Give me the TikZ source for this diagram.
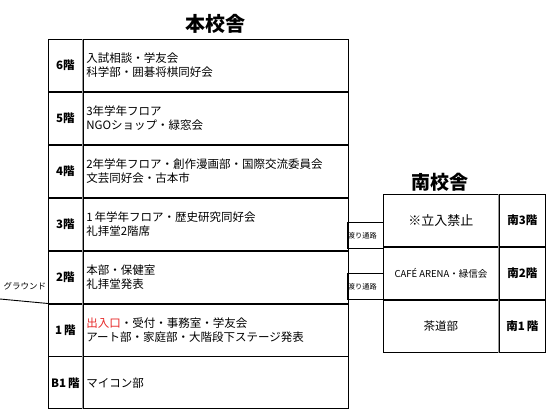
\documentclass[tikz,border=0pt]{standalone}
\usepackage{fontspec}
\setmainfont{Noto Sans CJK JP}
\usepackage{xcolor}
\usepackage{tikz}
\usetikzlibrary{positioning}
\definecolor{entred}{RGB}{230,40,40}
\tikzset{
  flrlab/.style  = {rectangle, draw, inner sep=0pt, font=\fontsize{11.5}{14}\selectfont\bfseries,
                    minimum width=34pt, minimum height=52pt},
  flrcell/.style = {rectangle, draw, inner xsep=3pt, inner ysep=0pt, align=left,
                    text width=259pt, minimum height=52pt,
                    font=\fontsize{11.5}{14}\selectfont},
  scell/.style   = {rectangle, draw, inner sep=0pt, align=center,
                    minimum width=115pt, minimum height=52pt},
  slab/.style    = {rectangle, draw, inner sep=0pt, font=\fontsize{11.5}{14}\selectfont\bfseries,
                    minimum width=46pt, minimum height=52pt},
  corr/.style    = {rectangle, draw, inner xsep=0.5pt, inner ysep=0pt, anchor=north west,
                    minimum width=36pt, minimum height=26pt, text width=35pt,
                    font=\fontsize{7.2}{8}\selectfont},
  bldtitle/.style= {font=\fontsize{20}{22}\selectfont\bfseries},
  divline/.style = {draw=gray!80, line width=1pt},
}

\begin{document}
\begin{tikzpicture}[x=1pt, y=-1pt, line width=0.9pt]
  \useasboundingbox (0,0) rectangle (550,413);
  \node[bldtitle] (maintitle) at (215,24) {本校舎};

  % main building, top floor first
  \node[flrlab, anchor=north west] (f6) at (48,39) {6階};
  \node[flrcell, right=0pt of f6] (r6) {入試相談・学友会\\科学部・囲碁将棋同好会};
  \node[flrlab, below=0pt of f6] (f5) {5階};
  \node[flrcell, right=0pt of f5] (r5) {3年学年フロア\\NGOショップ・緑窓会};
  \node[flrlab, below=0pt of f5] (f4) {4階};
  \node[flrcell, right=0pt of f4] (r4) {2年学年フロア・創作漫画部・国際交流委員会\\文芸同好会・古本市};
  \node[flrlab, below=0pt of f4] (f3) {3階};
  \node[flrcell, right=0pt of f3] (r3) {1\,年学年フロア・歴史研究同好会\\礼拝堂2階席};
  \node[flrlab, below=0pt of f3] (f2) {2階};
  \node[flrcell, right=0pt of f2] (r2) {本部・保健室\\礼拝堂発表};
  \node[flrlab, below=0pt of f2] (f1) {1\,階};
  \node[flrcell, right=0pt of f1] (r1) {\textcolor{entred}{出入口}・受付・事務室・学友会\\アート部・家庭部・大階段下ステージ発表};
  \node[flrlab, below=0pt of f1] (fb1) {B1\,階};
  \node[flrcell, right=0pt of fb1] (rb1) {マイコン部};
  \draw[divline] (f6.north east) -- (fb1.south east);

  % ground
  \coordinate (gnd) at (0,299);
  \draw (gnd) -- (f1.north west);
  \node[font=\fontsize{8.5}{10}\selectfont] (gndlab) at (25,286) {グラウンド};

  % south building
  \node[scell, anchor=north west, font=\fontsize{13}{15}\selectfont] (s3) at (383,194) {※立入禁止};
  \node[slab, right=0pt of s3] (sf3) {南3階};
  \node[scell, below=0pt of s3, font=\fontsize{9.5}{11}\selectfont] (s2) {CAFÉ ARENA・緑信会};
  \node[slab, right=0pt of s2] (sf2) {南2階};
  \node[scell, below=0pt of s2, font=\fontsize{11.5}{14}\selectfont] (s1) {茶道部};
  \node[slab, right=0pt of s1] (sf1) {南1\,階};
  \draw[divline] (sf3.north west) -- (sf1.south west);
  \node[bldtitle, font=\fontsize{19}{21}\selectfont\bfseries] (stitle) at (440,182) {南校舎};

  % corridors
  \node[corr] (cor1) at (347,222) {渡り通路};
  \node[corr] (cor2) at (347,273) {渡り通路};
\end{tikzpicture}
\end{document}
